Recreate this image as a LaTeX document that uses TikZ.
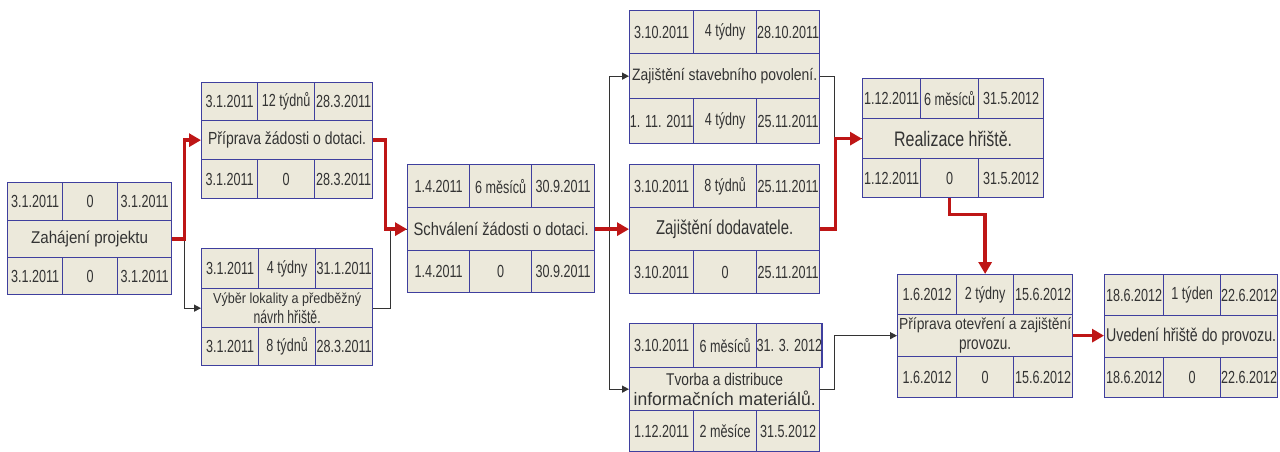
\documentclass[tikz,border=0pt]{standalone}
\usepackage{fontspec}
\usepackage{graphicx}
\setmainfont{Liberation Sans}
\newfontfamily\cellfont[FakeStretch=0.72]{Liberation Sans}
\usetikzlibrary{arrows.meta}

\definecolor{cellfill}{HTML}{ECE9DB}
\definecolor{cellline}{HTML}{3F3F9E}
\definecolor{ink}{HTML}{333333}
\definecolor{critred}{HTML}{BE1616}
\definecolor{linkgray}{HTML}{333333}

% geometry of one task box: column edges x0,c1,c2,x1 and row edges y0..y3
\newcommand\geom[8]{\def\xa{#1}\def\xb{#2}\def\xc{#3}\def\xd{#4}%
  \def\ya{#5}\def\yb{#6}\def\yc{#7}\def\yd{#8}}
% title line squeezed to a given width
\newcommand\ttl[2]{\resizebox{#1pt}{\height}{#2}}
% task box: name, three top cells, title, three bottom cells
\newcommand\tbox[8]{%
  \pgfmathsetmacro\wa{\xb-\xa}%
  \pgfmathsetmacro\wb{\xc-\xb}%
  \pgfmathsetmacro\wc{\xd-\xc}%
  \pgfmathsetmacro\wt{\xd-\xa}%
  \pgfmathsetmacro\ha{\yb-\ya}%
  \pgfmathsetmacro\hb{\yc-\yb}%
  \pgfmathsetmacro\hc{\yd-\yc}%
  \node[gcell,minimum width=\wa pt,minimum height=\ha pt] (#1-t1) at (\xa,\ya) {#2};
  \node[gcell,minimum width=\wb pt,minimum height=\ha pt] (#1-t2) at (\xb,\ya) {#3};
  \node[gcell,minimum width=\wc pt,minimum height=\ha pt] (#1-t3) at (\xc,\ya) {#4};
  \node[gcell,headrow,minimum width=\wt pt,minimum height=\hb pt] (#1) at (\xa,\yb) {#5};
  \node[gcell,minimum width=\wa pt,minimum height=\hc pt] (#1-b1) at (\xa,\yc) {#6};
  \node[gcell,minimum width=\wb pt,minimum height=\hc pt] (#1-b2) at (\xb,\yc) {#7};
  \node[gcell,minimum width=\wc pt,minimum height=\hc pt] (#1-b3) at (\xc,\yc) {#8};
}

\tikzset{
  gcell/.style={draw=cellline,fill=cellfill,line width=1.3pt,inner sep=0pt,
    anchor=north west,text=ink,font=\cellfont\fontsize{17.5}{19}\selectfont},
  headrow/.style={align=center,font=\fontsize{18}{20}\selectfont},
  crit/.style={draw=critred,line width=3.5pt,-{Triangle[length=12pt,width=13pt]}},
  link/.style={draw=linkgray,line width=1.2pt,-{Triangle[length=7pt,width=7pt]}},
  link line/.style={draw=linkgray,line width=1.2pt},
}

\begin{document}
\begin{tikzpicture}[x=1pt,y=-1pt]
\useasboundingbox (0,0) rectangle (1280,452);

% tasks
\geom{7}{62}{117}{171}{182}{220}{257}{294}
\tbox{A}{3.1.2011}{0}{3.1.2011}
  {\fontsize{17}{19}\selectfont\ttl{117}{Zahájení projektu}}
  {3.1.2011}{0}{3.1.2011}

\geom{201}{257}{314}{372}{82}{120}{159}{198}
\tbox{B}{3.1.2011}{12 týdnů}{28.3.2011}
  {\fontsize{17.5}{19}\selectfont\ttl{158}{Příprava žádosti o dotaci.}}
  {3.1.2011}{0}{28.3.2011}

\geom{201}{258}{315}{372}{248}{288}{327}{365}
\tbox{C}{3.1.2011}{4 týdny}{31.1.2011}
  {\fontsize{14.5}{17}\selectfont\ttl{148}{Výběr lokality a předběžný}\\\ttl{67}{návrh hřiště.}}
  {3.1.2011}{8 týdnů}{28.3.2011}

\geom{407}{469}{531}{594}{164}{207}{250}{292}
\tbox{D}{1.4.2011}{6 měsíců}{30.9.2011}
  {\fontsize{18}{20}\selectfont\ttl{175}{Schválení žádosti o dotaci.}}
  {1.4.2011}{0}{30.9.2011}

\geom{629}{693}{756}{819}{10}{53}{98}{143}
\tbox{E}{3.10.2011}{4 týdny}{28.10.2011}
  {\fontsize{16.5}{19}\selectfont\ttl{185}{Zajištění stavebního povolení.}}
  {1. 11. 2011}{4 týdny}{25.11.2011}

\geom{629}{693}{756}{819}{164}{207}{250}{293}
\tbox{F}{3.10.2011}{8 týdnů}{25.11.2011}
  {\fontsize{20}{22}\selectfont\ttl{137}{Zajištění dodavatele.}}
  {3.10.2011}{0}{25.11.2011}

\geom{629}{693}{756}{819}{323}{367}{410}{451}
\tbox{G}{3.10.2011}{6 měsíců}{31. 3. 2012}
  {\fontsize{17}{18}\selectfont\ttl{117}{Tvorba a distribuce}\\\ttl{182}{informačních materiálů.}}
  {1.12.2011}{2 měsíce}{31.5.2012}

\geom{862}{920}{978}{1043}{78}{118}{158}{197}
\tbox{H}{1.12.2011}{6 měsíců}{31.5.2012}
  {\fontsize{21}{23}\selectfont\ttl{118}{Realizace hřiště.}}
  {1.12.2011}{0}{31.5.2012}

\geom{897}{956}{1013}{1072}{274}{314}{356}{397}
\tbox{I}{1.6.2012}{2 týdny}{15.6.2012}
  {\fontsize{16}{17}\selectfont\ttl{172}{Příprava otevření a zajištění}\\\ttl{52}{provozu.}}
  {1.6.2012}{0}{15.6.2012}

\geom{1104}{1163}{1220}{1277}{274}{315}{357}{397}
\tbox{J}{18.6.2012}{1 týden}{22.6.2012}
  {\fontsize{18.5}{20}\selectfont\ttl{170}{Uvedení hřiště do provozu.}}
  {18.6.2012}{0}{22.6.2012}

% ordinary dependencies
\draw[link] (A.east) -- ++(12,0) |- (C.west);
\draw[link line] (C.east) -- ++(17,0) |- (D.west);
\draw[link] (D.east) -- ++(14,0) |- (E.west);
\draw[link] (D.east) -- ++(14,0) |- (G.west);
\draw[link line] (E.east) -- ++(14,0) |- (H.west);
\draw[link] (G.east) -- ++(14,0) |- (I.west);

% critical path
\draw[crit] (A.east) -- ++(12,0) |- (B.west);
\draw[crit] (B.east) -- ++(12,0) |- (D.west);
\draw[crit] (D.east) -- (F.west);
\draw[crit] (F.east) -- ++(15,0) |- (H.west);
\draw[crit] (H-b2.south) -- ++(0,16) -| (I-t2.north);
\draw[crit] (I.east) -- (I.east -| J.west);
\end{tikzpicture}
\end{document}
